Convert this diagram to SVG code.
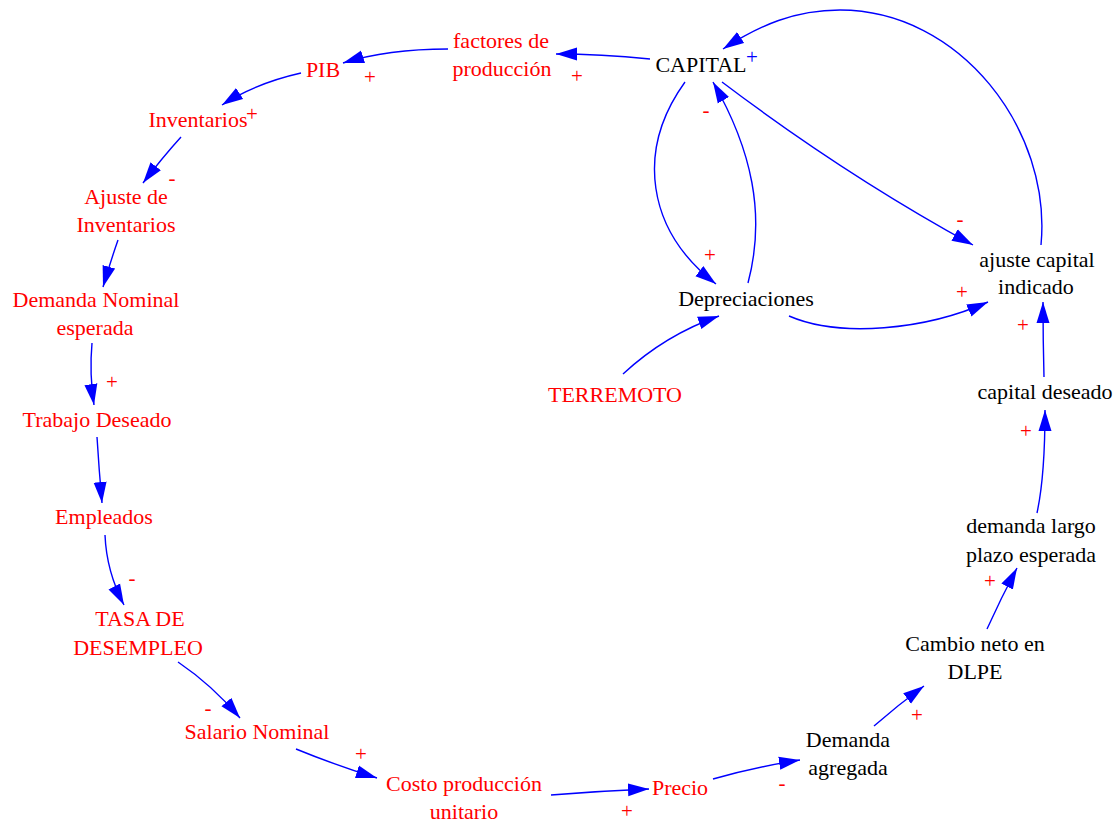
<svg xmlns="http://www.w3.org/2000/svg" width="1120" height="823" viewBox="0 0 1120 823">
  <style>
    text { font-family: 'Liberation Serif', 'Times New Roman', Times, 'Noto Serif', 'DejaVu Serif', Tinos, serif; }
    .lbl { font-size: 22px; text-anchor: middle; }
    .red { fill: #ff0000; }
    .blk { fill: #000000; }
    .sign { font-size: 21px; text-anchor: middle; fill: #ff0000; }
    .pos { fill: #0000ff; }
    .link { fill: none; stroke: #0000ff; stroke-width: 1.4; marker-end: url(#head); }
  </style>
  <defs>
    <marker id="head" markerUnits="userSpaceOnUse" markerWidth="22" markerHeight="14" refX="21" refY="7" orient="auto">
      <path d="M0,0.5 L21,7 L0,13.5 z" fill="#0000ff"/>
    </marker>
  </defs>
  <rect width="1120" height="823" fill="#ffffff"/>

  <g id="connectors">
    <path class="link" d="M650,59 C620,56 590,54 556,54"/>
    <path class="link" d="M448,49 C410,49 375,53 343,63"/>
    <path class="link" d="M301,73 C270,80 245,90 222,105"/>
    <path class="link" d="M181,137 Q162,158 143,183"/>
    <path class="link" d="M118,240 Q110,263 103,287"/>
    <path class="link" d="M92,343 C90,365 91,385 94,405"/>
    <path class="link" d="M97,437 Q99,470 102,503"/>
    <path class="link" d="M105,535 C106,560 112,582 124,605"/>
    <path class="link" d="M178,662 Q212,685 240,718"/>
    <path class="link" d="M296,749 Q335,765 377,778"/>
    <path class="link" d="M551,795 Q600,791 649,789"/>
    <path class="link" d="M713,779 Q755,767 800,760"/>
    <path class="link" d="M874,726 Q898,705 924,686"/>
    <path class="link" d="M987,629 Q1001,598 1017,568"/>
    <path class="link" d="M1037,513 C1042,490 1045,450 1045,410"/>
    <path class="link" d="M1044,377 Q1043,340 1043,302"/>
    <path class="link" d="M1041,245 C1052,130 960,10 840,10 C795,10 760,25 723,49"/>
    <path class="link" d="M722,82 Q845,175 973,245"/>
    <path class="link" d="M685,82 C636,150 646,230 716,284"/>
    <path class="link" d="M748,283 C766,215 752,150 713,82"/>
    <path class="link" d="M789,316 C840,338 925,330 988,302"/>
    <path class="link" d="M623,374 Q665,335 719,316"/>
  </g>

  <g id="signs">
    <text class="sign pos" x="752" y="64">+</text>
    <text class="sign" x="577" y="83">+</text>
    <text class="sign" x="370" y="84">+</text>
    <text class="sign" x="252" y="121">+</text>
    <text class="sign" x="172" y="185">-</text>
    <text class="sign" x="112" y="389">+</text>
    <text class="sign" x="132" y="585">-</text>
    <text class="sign" x="208" y="715">-</text>
    <text class="sign" x="361" y="761">+</text>
    <text class="sign" x="627" y="818">+</text>
    <text class="sign" x="782" y="790">-</text>
    <text class="sign" x="917" y="722">+</text>
    <text class="sign" x="990" y="588">+</text>
    <text class="sign" x="1026" y="438">+</text>
    <text class="sign" x="1023" y="332">+</text>
    <text class="sign" x="960" y="226">-</text>
    <text class="sign" x="962" y="299">+</text>
    <text class="sign" x="706" y="117">-</text>
    <text class="sign" x="710" y="262">+</text>
  </g>

  <g id="capital"><text class="lbl blk" x="701" y="72">CAPITAL</text></g>
  <g id="factores"><text class="lbl red" x="501" y="48">factores de</text><text class="lbl red" x="502" y="76">producción</text></g>
  <g id="pib"><text class="lbl red" x="323" y="77">PIB</text></g>
  <g id="inventarios"><text class="lbl red" x="198" y="127">Inventarios</text></g>
  <g id="ajuste-inventarios"><text class="lbl red" x="126" y="204">Ajuste de</text><text class="lbl red" x="126" y="232">Inventarios</text></g>
  <g id="demanda-nominal"><text class="lbl red" x="96" y="307">Demanda Nominal</text><text class="lbl red" x="95" y="335">esperada</text></g>
  <g id="trabajo-deseado"><text class="lbl red" x="97" y="427">Trabajo Deseado</text></g>
  <g id="empleados"><text class="lbl red" x="104" y="524">Empleados</text></g>
  <g id="tasa-desempleo"><text class="lbl red" x="140" y="626">TASA DE</text><text class="lbl red" x="138" y="655">DESEMPLEO</text></g>
  <g id="salario-nominal"><text class="lbl red" x="257" y="739">Salario Nominal</text></g>
  <g id="costo-produccion"><text class="lbl red" x="464" y="791">Costo producción</text><text class="lbl red" x="464" y="819">unitario</text></g>
  <g id="precio"><text class="lbl red" x="680" y="795">Precio</text></g>
  <g id="demanda-agregada"><text class="lbl blk" x="848" y="747">Demanda</text><text class="lbl blk" x="848" y="775">agregada</text></g>
  <g id="cambio-dlpe"><text class="lbl blk" x="975" y="651">Cambio neto en</text><text class="lbl blk" x="975" y="679">DLPE</text></g>
  <g id="demanda-largo-plazo"><text class="lbl blk" x="1031" y="533">demanda largo</text><text class="lbl blk" x="1031" y="562">plazo esperada</text></g>
  <g id="capital-deseado"><text class="lbl blk" x="1045" y="399">capital deseado</text></g>
  <g id="ajuste-capital"><text class="lbl blk" x="1037" y="267">ajuste capital</text><text class="lbl blk" x="1036" y="294">indicado</text></g>
  <g id="depreciaciones"><text class="lbl blk" x="746" y="306">Depreciaciones</text></g>
  <g id="terremoto"><text class="lbl red" x="615" y="402">TERREMOTO</text></g>
</svg>
